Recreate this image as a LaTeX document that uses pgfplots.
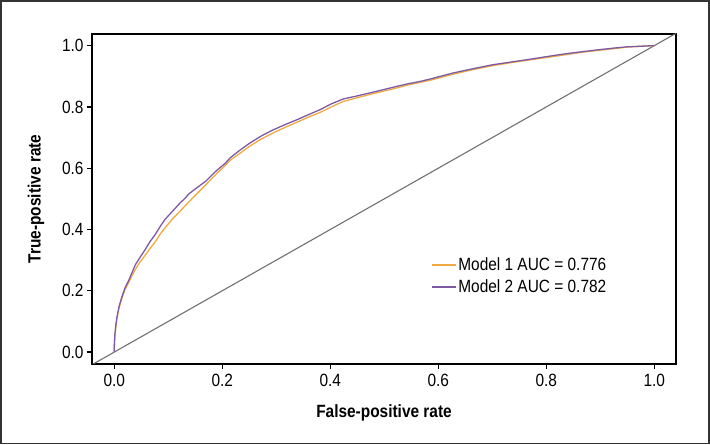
\documentclass[border=0pt]{standalone}
\usepackage{fontspec}
\setmainfont{Liberation Sans}[FakeStretch=0.87]
\usepackage{pgfplots}
\pgfplotsset{compat=1.18}
\definecolor{morange}{HTML}{F0AA40}
\definecolor{mpurple}{HTML}{7E5AA6}
\definecolor{frame}{HTML}{333333}
\definecolor{diag}{HTML}{707070}
\begin{document}
\begin{tikzpicture}[x=1bp,y=1bp]
\path[use as bounding box] (0,0) rectangle (710,445);
\draw[line width=1.8bp, frame] (1,1.5) rectangle (709,444);
\begin{axis}[
  at={(92bp,81bp)}, anchor=south west,
  scale only axis, width=584bp, height=330bp,
  xmin=-0.0413, xmax=1.0402, ymin=-0.039, ymax=1.038,
  xtick={0,0.2,0.4,0.6,0.8,1.0}, ytick={0,0.2,0.4,0.6,0.8,1.0},
  xtick pos=bottom, ytick pos=left, tick align=outside,
  major tick length=5bp,
  every tick/.style={black, line width=1.2bp},
  axis line style={black, line width=1.6bp},
  font=\fontsize{17.8}{21}\selectfont,
  /pgf/number format/assume math mode=true,
  xticklabel style={yshift=-2bp, /pgf/number format/.cd, fixed, fixed zerofill, precision=1},
  yticklabel style={/pgf/number format/.cd, fixed, fixed zerofill, precision=1},
  xlabel={\bfseries False-positive rate},
  ylabel={\bfseries True-positive rate},
  x label style={at={(axis description cs:0.5,-0.148)}, anchor=center},
  y label style={at={(axis description cs:-0.096,0.5)}, anchor=center, rotate=0},
  legend style={draw=none, fill=none, at={(axis description cs:0.732,0.267)}, anchor=center,
    row sep=4bp, font=\fontsize{17.8}{21}\selectfont},
  legend cell align=left,
  legend image code/.code={\draw[#1, line width=1.6bp] (0bp,0bp) -- (24bp,0bp);},
]
\addplot[diag, line width=1.1bp, forget plot] coordinates {(-0.06,-0.06) (1.06,1.06)};
\addplot[morange, line width=1.3bp] coordinates {
(0,0) (0,0.02) (0.001,0.05) (0.003,0.085) (0.005,0.11) (0.009,0.145) (0.014,0.175) (0.02,0.205) (0.027,0.228) (0.033,0.25) (0.039,0.27) (0.048,0.295) (0.057,0.315) (0.066,0.338) (0.076,0.36) (0.085,0.385) (0.094,0.405) (0.108,0.435) (0.122,0.46) (0.13,0.475) (0.138,0.49) (0.152,0.515) (0.169,0.545) (0.188,0.58) (0.206,0.61) (0.214,0.625) (0.232,0.648) (0.251,0.672) (0.272,0.695) (0.294,0.715) (0.316,0.733) (0.338,0.75) (0.36,0.767) (0.381,0.782) (0.402,0.8) (0.424,0.818) (0.45,0.83) (0.474,0.841) (0.5,0.852) (0.523,0.862) (0.545,0.872) (0.566,0.88) (0.585,0.887) (0.628,0.907) (0.665,0.922) (0.702,0.935) (0.733,0.944) (0.764,0.952) (0.8,0.961) (0.838,0.971) (0.87,0.979) (0.899,0.985) (0.925,0.99) (0.949,0.995) (0.975,0.998) (1,1)
};
\addlegendentry{Model 1 AUC = 0.776}
\addplot[mpurple, line width=1.3bp] coordinates {
(0,0) (0,0.02) (0.001,0.055) (0.003,0.09) (0.005,0.115) (0.009,0.15) (0.014,0.18) (0.02,0.21) (0.027,0.235) (0.033,0.26) (0.039,0.285) (0.048,0.31) (0.057,0.334) (0.066,0.36) (0.076,0.384) (0.085,0.41) (0.094,0.433) (0.108,0.46) (0.122,0.487) (0.13,0.5) (0.138,0.516) (0.152,0.535) (0.169,0.557) (0.188,0.59) (0.206,0.617) (0.214,0.633) (0.232,0.658) (0.251,0.682) (0.272,0.705) (0.294,0.725) (0.316,0.742) (0.338,0.758) (0.36,0.775) (0.381,0.791) (0.402,0.81) (0.424,0.826) (0.45,0.836) (0.474,0.846) (0.5,0.857) (0.523,0.867) (0.545,0.876) (0.566,0.883) (0.585,0.891) (0.628,0.911) (0.665,0.925) (0.702,0.938) (0.733,0.946) (0.764,0.954) (0.8,0.964) (0.838,0.974) (0.87,0.981) (0.899,0.987) (0.925,0.992) (0.949,0.996) (0.975,0.998) (1,1)
};
\addlegendentry{Model 2 AUC = 0.782}
\end{axis}
\end{tikzpicture}
\end{document}
